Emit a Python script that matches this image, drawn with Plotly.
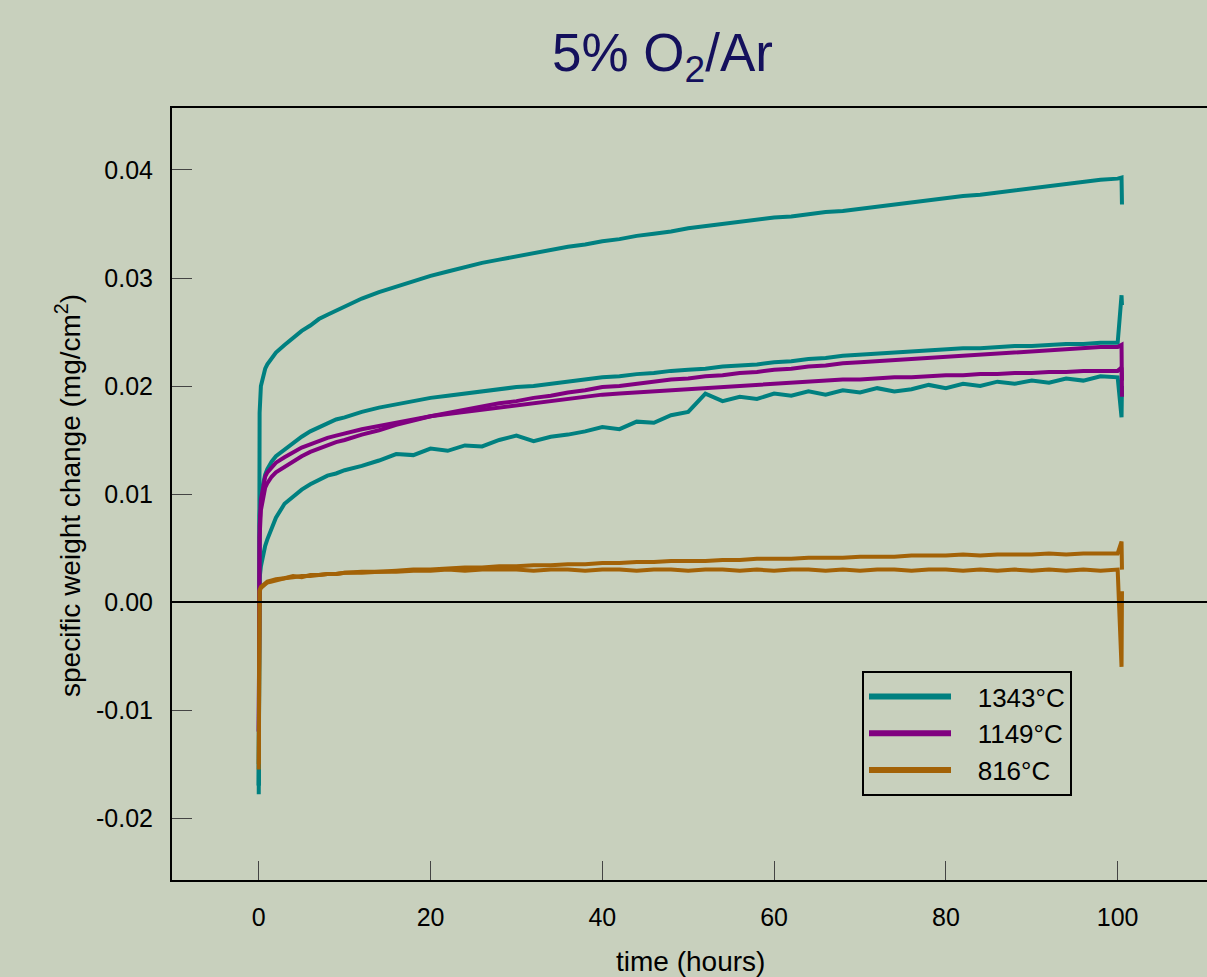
import plotly.graph_objects as go

# Exposure time grid (hours)
hours = [0, 0.02, 0.1, 0.25, 0.5, 0.75, 1, 1.5, 2, 3, 4, 5, 6, 7, 8, 9, 10,
         12, 14, 16, 18, 20, 22, 24, 26, 28, 30, 32, 34, 36, 38, 40, 42, 44, 46, 48,
         50, 52, 54, 56, 58, 60, 62, 64, 66, 68, 70, 72, 74, 76, 78, 80, 82, 84, 86,
         88, 90, 92, 94, 96, 98, 100, 100.45, 100.5]

# 1343 °C runs (mg/cm^2)
t1343_a = [-0.0178, 0.0120, 0.0175, 0.0200, 0.0210, 0.0216, 0.0220, 0.0226, 0.0231, 0.0238,
           0.0245, 0.0251, 0.0256, 0.0262, 0.0266, 0.0270, 0.0274,
           0.0281, 0.0287, 0.0292, 0.0297, 0.0302, 0.0306, 0.0310, 0.0314, 0.0317, 0.0320,
           0.0323, 0.0326, 0.0329, 0.0331, 0.0334, 0.0336, 0.0339, 0.0341, 0.0343,
           0.0346, 0.0348, 0.0350, 0.0352, 0.0354, 0.0356, 0.0357, 0.0359, 0.0361, 0.0362,
           0.0364, 0.0366, 0.0368, 0.0370, 0.0372, 0.0374, 0.0376, 0.0377, 0.0379,
           0.0381, 0.0383, 0.0385, 0.0387, 0.0389, 0.0391, 0.0392, 0.0393, 0.0368]
t1343_b = [-0.0170, 0.0040, 0.0080, 0.0100, 0.0110, 0.0118, 0.0123, 0.0130, 0.0135, 0.0141,
           0.0148, 0.0153, 0.0158, 0.0162, 0.0166, 0.0169, 0.0171,
           0.0176, 0.0180, 0.0183, 0.0186, 0.0189, 0.0191, 0.0193, 0.0195, 0.0197, 0.0199,
           0.0200, 0.0202, 0.0204, 0.0206, 0.0208, 0.0209, 0.0211, 0.0212, 0.0214,
           0.0215, 0.0216, 0.0218, 0.0219, 0.0220, 0.0222, 0.0223, 0.0225, 0.0226, 0.0228,
           0.0229, 0.0230, 0.0231, 0.0232, 0.0233, 0.0234, 0.0235, 0.0235, 0.0236,
           0.0237, 0.0237, 0.0238, 0.0239, 0.0239, 0.0240, 0.0240, 0.0284, 0.0275]
t1343_c = [-0.0170, 0.0012, 0.0022, 0.0033, 0.0044, 0.0052, 0.0058, 0.0068, 0.0078, 0.0091,
           0.0098, 0.0104, 0.0109, 0.0113, 0.0117, 0.0119, 0.0122,
           0.0126, 0.0131, 0.0137, 0.0136, 0.0142, 0.0140, 0.0145, 0.0144, 0.0150, 0.0154,
           0.0149, 0.0153, 0.0155, 0.0158, 0.0162, 0.0160, 0.0167, 0.0166, 0.0173,
           0.0176, 0.0193, 0.0186, 0.0190, 0.0188, 0.0193, 0.0191, 0.0195, 0.0192, 0.0196,
           0.0194, 0.0198, 0.0195, 0.0197, 0.0201, 0.0198, 0.0202, 0.0200, 0.0204,
           0.0202, 0.0205, 0.0203, 0.0207, 0.0205, 0.0209, 0.0208, 0.0171, 0.0200]

# 1149 °C runs
t1149_a = [-0.0120, 0.0030, 0.0060, 0.0085, 0.0098, 0.0106, 0.0110, 0.0116, 0.0120, 0.0125,
           0.0131, 0.0135, 0.0139, 0.0142, 0.0145, 0.0148, 0.0150,
           0.0155, 0.0159, 0.0164, 0.0168, 0.0172, 0.0175, 0.0178, 0.0181, 0.0184, 0.0186,
           0.0189, 0.0191, 0.0194, 0.0196, 0.0199, 0.0200, 0.0202, 0.0204, 0.0206,
           0.0207, 0.0209, 0.0210, 0.0212, 0.0213, 0.0215, 0.0216, 0.0218, 0.0219, 0.0221,
           0.0222, 0.0223, 0.0224, 0.0225, 0.0226, 0.0227, 0.0228, 0.0229, 0.0230,
           0.0231, 0.0232, 0.0233, 0.0234, 0.0235, 0.0236, 0.0236, 0.0238, 0.0190]
t1149_b = [-0.0120, 0.0040, 0.0070, 0.0095, 0.0108, 0.0116, 0.0120, 0.0125, 0.0129, 0.0134,
           0.0139, 0.0143, 0.0146, 0.0149, 0.0152, 0.0154, 0.0156,
           0.0160, 0.0163, 0.0166, 0.0169, 0.0172, 0.0174, 0.0176, 0.0178, 0.0180, 0.0182,
           0.0184, 0.0186, 0.0188, 0.0190, 0.0192, 0.0193, 0.0194, 0.0195, 0.0196,
           0.0197, 0.0198, 0.0199, 0.0200, 0.0201, 0.0202, 0.0203, 0.0204, 0.0205, 0.0206,
           0.0206, 0.0207, 0.0208, 0.0208, 0.0209, 0.0210, 0.0210, 0.0211, 0.0211,
           0.0212, 0.0212, 0.0213, 0.0213, 0.0214, 0.0214, 0.0214, 0.0217, 0.0205]

# 816 °C runs
t816_a = [-0.0155, 0.0005, 0.0011, 0.0014, 0.0016, 0.0018, 0.0019, 0.0020, 0.0021, 0.0022,
          0.0024, 0.0023, 0.0025, 0.0025, 0.0026, 0.0026, 0.0027,
          0.0028, 0.0028, 0.0029, 0.0030, 0.0030, 0.0031, 0.0032, 0.0032, 0.0033, 0.0033,
          0.0034, 0.0034, 0.0035, 0.0035, 0.0036, 0.0036, 0.0037, 0.0037, 0.0038,
          0.0038, 0.0038, 0.0039, 0.0039, 0.0040, 0.0040, 0.0040, 0.0041, 0.0041, 0.0041,
          0.0042, 0.0042, 0.0042, 0.0043, 0.0043, 0.0043, 0.0044, 0.0043, 0.0044,
          0.0044, 0.0044, 0.0045, 0.0044, 0.0045, 0.0045, 0.0045, 0.0056, 0.0030]
t816_b = [-0.0150, 0.0004, 0.0010, 0.0013, 0.0015, 0.0017, 0.0018, 0.0019, 0.0020, 0.0022,
          0.0023, 0.0024, 0.0024, 0.0025, 0.0026, 0.0026, 0.0027,
          0.0027, 0.0028, 0.0028, 0.0029, 0.0029, 0.0030, 0.0029, 0.0030, 0.0030, 0.0030,
          0.0029, 0.0030, 0.0030, 0.0029, 0.0030, 0.0030, 0.0029, 0.0030, 0.0030,
          0.0029, 0.0030, 0.0030, 0.0029, 0.0030, 0.0029, 0.0030, 0.0030, 0.0029, 0.0030,
          0.0029, 0.0030, 0.0030, 0.0029, 0.0030, 0.0030, 0.0029, 0.0030, 0.0029,
          0.0030, 0.0029, 0.0030, 0.0029, 0.0030, 0.0029, 0.0030, -0.0060, 0.0010]

temps = ["1343°C", "1149°C", "816°C"]
colors = ["#008080", "#800080", "#a36207"]
runs = [[t1343_a, t1343_b, t1343_c], [t1149_a, t1149_b], [t816_a, t816_b]]

x_ticks = [0, 20, 40, 60, 80, 100]
y_ticks = [-0.02, -0.01, 0.0, 0.01, 0.02, 0.03, 0.04]
y_ticktext = ["-0.02", "-0.01", "0.00", "0.01", "0.02", "0.03", "0.04"]

FONT = "Arial, Liberation Sans, sans-serif"
GAP = "\u00a0\u00a0\u00a0"

fig = go.Figure()
for temp, color, series in zip(temps, colors, runs):
    for values in series:
        fig.add_trace(go.Scatter(x=hours, y=values, mode="lines",
                                 line=dict(color=color, width=4),
                                 showlegend=False, hoverinfo="skip"))
# legend samples
for temp, color in zip(temps, colors):
    fig.add_trace(go.Scatter(x=[None], y=[None], mode="lines", name=GAP + temp,
                             line=dict(color=color, width=6)))

W, H = 1207, 977
L, R, T, B = 172, 0, 108, 97
pw, ph = W - L - R, H - T - B

# zero reference line across the full plot width
fig.add_shape(type="line", xref="paper", yref="y", x0=0, x1=1, y0=0, y1=0,
              line=dict(color="black", width=2), layer="above")

fig.update_layout(
    width=W, height=H,
    margin=dict(l=L, r=R, t=T, b=B),
    paper_bgcolor="#c8d0bd", plot_bgcolor="#c8d0bd",
    font=dict(family=FONT, color="black", size=24),
    legend=dict(x=(862 - L) / pw, y=(H - B - 671) / ph, xanchor="left", yanchor="top",
                bgcolor="rgba(0,0,0,0)", bordercolor="black", borderwidth=2,
                font=dict(size=26), itemwidth=82, tracegroupgap=0),
    xaxis=dict(range=[-10.1, 110.4], tickvals=x_ticks, ticks="inside", ticklen=19,
               tickwidth=1, tickcolor="#444", showgrid=False, zeroline=False,
               showline=True, linecolor="black", linewidth=2, mirror=True,
               tickfont=dict(size=25), ticklabelstandoff=14),
    yaxis=dict(range=[-0.02574, 0.04574], tickvals=y_ticks, ticktext=y_ticktext,
               ticks="inside", ticklen=20, tickwidth=1, tickcolor="#444",
               showgrid=False, zeroline=False,
               showline=True, linecolor="black", linewidth=2, mirror=False,
               tickfont=dict(size=25), ticklabelstandoff=12),
    annotations=[
        dict(text="5% O<sub>2</sub>/Ar", xref="paper", yref="paper",
             x=(662 - L) / pw, y=(H - B - 57) / ph, xanchor="center", yanchor="middle",
             showarrow=False, font=dict(size=53, color="#14105c")),
        dict(text="time (hours)", xref="paper", yref="paper",
             x=(690 - L) / pw, y=(H - B - 961) / ph, xanchor="center", yanchor="middle",
             showarrow=False, font=dict(size=28)),
        dict(text="specific weight change (mg/cm<sup>2</sup>)", xref="paper", yref="paper",
             x=(68 - L) / pw, y=(H - B - 496) / ph, xanchor="center", yanchor="middle",
             textangle=-90, showarrow=False, font=dict(size=28)),
    ],
)

fig.write_html("out.html")
